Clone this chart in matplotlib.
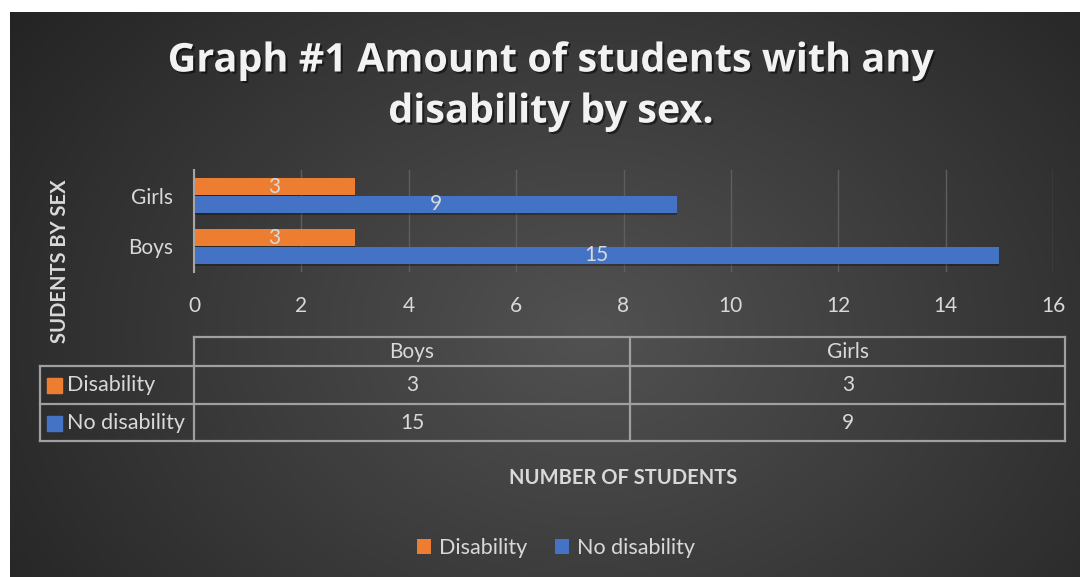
import numpy as np
import matplotlib
matplotlib.use("Agg")
import matplotlib.pyplot as plt
import matplotlib.patheffects as pe
from matplotlib.patches import Rectangle

plt.rcParams['font.family'] = ['Lato', 'DejaVu Sans']

# data
sexes = ['Boys', 'Girls']
disability = [3, 3]
no_disability = [15, 9]
series_names = ['Disability', 'No disability']
x_ticks = [0, 2, 4, 6, 8, 10, 12, 14, 16]

c_orange = '#ED7D31'
c_blue = '#4472C4'
c_text = '#d9d9d9'
c_grid = '#5e5e5e'
c_table = '#a0a0a0'

W, H = 1080, 577
fig = plt.figure(figsize=(W / 100, H / 100), dpi=100)
fig.patch.set_facecolor('white')

# background with radial gradient (white strip top and left like the screenshot)
bg = fig.add_axes([10 / W, 0, (W - 10) / W, (H - 12) / H], zorder=0)
yy, xx = np.mgrid[0:565, 0:1070]
r = np.sqrt(((xx - 580) / 720.0) ** 2 + ((yy - 320) / 540.0) ** 2)
shade = np.clip(0.32 - 0.18 * r, 0.14, 0.32)
bg.imshow(np.dstack([shade, shade, shade]), aspect='auto', extent=(0, 1, 0, 1))
bg.set_axis_off()

# overlay in pixel coordinates for table and texts
ov = fig.add_axes([0, 0, 1, 1], zorder=2)
ov.set_xlim(0, W)
ov.set_ylim(H, 0)
ov.set_axis_off()
ov.patch.set_alpha(0)

# title
title_fx = [pe.withSimplePatchShadow(offset=(1.5, -1.5), shadow_rgbFace='black', alpha=0.5)]
for y, line in [(61, 'Graph #1 Amount of students with any'), (112, 'disability by sex.')]:
    ov.text(551, y, line, ha='center', va='center', family='Open Sans',
            fontsize=28.5, fontweight='bold', color='#f2f2f2', path_effects=title_fx)

# main axes
ax = fig.add_axes([194 / W, 1 - 272 / H, (1053 - 194) / W, (272 - 170) / H], zorder=1)
ax.patch.set_alpha(0)
ypos = np.arange(len(sexes))
bar_fx = [pe.withSimplePatchShadow(offset=(0, -2), shadow_rgbFace='black', alpha=0.3)]
b1 = ax.barh(ypos + 0.175, disability, height=0.32, color=c_orange, label=series_names[0],
             path_effects=bar_fx)
b2 = ax.barh(ypos - 0.175, no_disability, height=0.32, color=c_blue, label=series_names[1],
             path_effects=bar_fx)
ax.bar_label(b1, label_type='center', color=c_text, fontsize=15)
ax.bar_label(b2, label_type='center', color=c_text, fontsize=15)
ax.set_xlim(0, 16)
ax.set_ylim(-0.5, 1.5)
ax.set_xticks(x_ticks)
ax.set_yticks(ypos)
ax.set_yticklabels(sexes)
ax.tick_params(axis='both', length=0, colors=c_text, labelsize=15)
ax.tick_params(axis='x', pad=17)
ax.tick_params(axis='y', pad=15)
ax.grid(axis='x', color=c_grid, linewidth=1)
ax.set_axisbelow(True)
for s in ['top', 'right', 'bottom']:
    ax.spines[s].set_visible(False)
ax.spines['left'].set_color('#a6a6a6')
ax.spines['left'].set_linewidth(1.5)

# y axis title
ov.text(60, 261, 'SUDENTS BY SEX', rotation=90, ha='center', va='center',
        fontsize=14.5, fontweight='bold', color=c_text)

# data table
lw = 1.6
ov.plot([194, 1065], [337, 337], color=c_table, lw=lw)
for y in [366, 404, 441]:
    ov.plot([40, 1065], [y, y], color=c_table, lw=lw)
ov.plot([194, 194], [337, 441], color=c_table, lw=lw)
ov.plot([630, 630], [337, 441], color=c_table, lw=lw)
ov.plot([1065, 1065], [337, 441], color=c_table, lw=lw)
ov.plot([40, 40], [366, 441], color=c_table, lw=lw)

col_x = [412, 848]
for i, s in enumerate(sexes):
    ov.text(col_x[i], 352, s, ha='center', va='center', fontsize=15, color=c_text)
    ov.text(col_x[i], 385, str(disability[i]), ha='center', va='center', fontsize=15, color=c_text)
    ov.text(col_x[i], 423, str(no_disability[i]), ha='center', va='center', fontsize=15, color=c_text)
for y, name, c in [(385, series_names[0], c_orange), (423, series_names[1], c_blue)]:
    ov.add_patch(Rectangle((47, y - 7.5), 15, 15, color=c))
    ov.text(67, y, name, ha='left', va='center', fontsize=15.5, color=c_text)

# x axis title
ov.text(623, 478, 'NUMBER OF STUDENTS', ha='center', va='center',
        fontsize=14.5, fontweight='bold', color=c_text)

# legend
leg = fig.legend(handles=[b1, b2], loc='center', bbox_to_anchor=(556 / W, 1 - 548 / H), ncol=2,
                 frameon=False, fontsize=15.5, handlelength=0.65, handleheight=0.65,
                 handletextpad=0.35, columnspacing=1.3)
for t in leg.get_texts():
    t.set_color(c_text)
for h in leg.legend_handles:
    h.set_path_effects([])

fig.savefig('out.png', dpi=100)
